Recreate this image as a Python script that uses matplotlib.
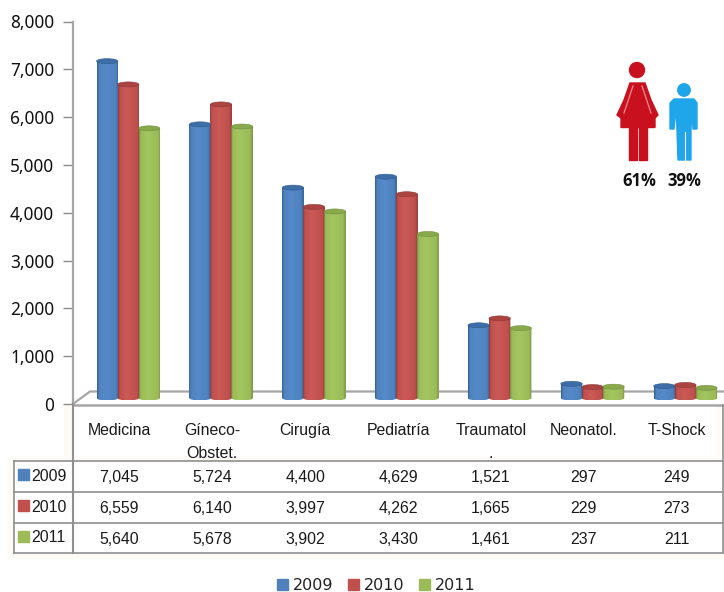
import numpy as np
import matplotlib
matplotlib.use('Agg')
import matplotlib.pyplot as plt
from matplotlib.colors import LinearSegmentedColormap
from matplotlib.patches import Circle, Ellipse, Patch, Polygon, Rectangle

categories = ['Medicina', 'Gíneco-\nObstet.', 'Cirugía', 'Pediatría',
              'Traumatol\n.', 'Neonatol.', 'T-Shock']
years = ['2009', '2010', '2011']
values_2009 = [7045, 5724, 4400, 4629, 1521, 297, 249]
values_2010 = [6559, 6140, 3997, 4262, 1665, 229, 273]
values_2011 = [5640, 5678, 3902, 3430, 1461, 237, 211]
y_ticks = [0, 1000, 2000, 3000, 4000, 5000, 6000, 7000, 8000]
shares = ['61%', '39%']

series = [values_2009, values_2010, values_2011]
flat_colors = ['#4f81bd', '#c0504d', '#9bbb59']
dark_colors = ['#2f5c92', '#8c3a38', '#728f3f']
light_colors = ['#558aca', '#cb5a57', '#a3c660']
cap_colors = ['#3d6ea8', '#ab4441', '#88a94c']

W, H = 724, 592
GRAY = '#a6a6a6'
TABLE_FONT = 'Liberation Sans'
TABLE_SIZE = 11.4


def px_axes(fig, left, top, right, bottom):
    return fig.add_axes([left / W, 1 - bottom / H, (right - left) / W, (bottom - top) / H])


def cylinder(ax, x, value, width, base, cap_h, i):
    """one shaded 3d column: gradient body, rounded foot and an elliptical cap"""
    cmap = LinearSegmentedColormap.from_list(
        'c', [(0, dark_colors[i]), (0.08, flat_colors[i]), (0.4, light_colors[i]),
              (0.88, flat_colors[i]), (1, dark_colors[i])])
    top = base + value
    ax.bar(x, value, width, bottom=base, color=flat_colors[i], zorder=3)
    t = np.linspace(np.pi, 2 * np.pi, 30)
    foot = np.column_stack([x + width / 2 * np.cos(t), base + cap_h / 2 * np.sin(t)])
    outline = np.vstack([[[x - width / 2, top]], foot, [[x + width / 2, top]]])
    clip = Polygon(outline, closed=True, transform=ax.transData, facecolor='none', edgecolor='none')
    ax.add_patch(clip)
    im = ax.imshow(np.linspace(0, 1, 64).reshape(1, -1), cmap=cmap, aspect='auto', zorder=3.1,
                   extent=[x - width / 2, x + width / 2, base - cap_h / 2, top])
    im.set_clip_path(clip)
    ax.add_patch(Ellipse((x, top), width, cap_h, facecolor=cap_colors[i],
                         edgecolor=dark_colors[i], linewidth=0.4, zorder=3.2))


def woman(ax, color):
    ax.add_patch(Circle((637, 70), 7.5, color=color))
    ax.add_patch(Polygon([(630, 83), (645, 83), (651, 100), (658, 115), (655, 118), (655, 127.5),
                          (621, 127.5), (621, 118), (617, 115), (624, 100)],
                         closed=True, color=color))
    # pale seams between the arms and the dress
    ax.plot([633, 624], [86, 113], color='#ef8a8f', linewidth=0.9)
    ax.plot([642, 651], [86, 113], color='#ef8a8f', linewidth=0.9)
    ax.add_patch(Rectangle((629, 127), 8, 33, color=color))
    ax.add_patch(Rectangle((638.5, 127), 8, 33, color=color))


def man(ax, color):
    ax.add_patch(Circle((684, 90), 6.2, color=color))
    ax.add_patch(Polygon([(674, 99), (694, 99), (697, 103), (697, 129), (693, 129), (692, 108),
                          (691, 130), (691, 160), (678, 160), (677, 130), (676, 108),
                          (674, 129), (670, 129), (670, 103)], closed=True, color=color))
    ax.plot([684.5, 684.5], [132, 160], color='#ffffff', linewidth=0.8)


fig = plt.figure(figsize=(W / 100, H / 100), dpi=100)

# value axis with the columns
ax = px_axes(fig, 73, 21.5, 723, 404)
ax.patch.set_alpha(0)

px_x = 7 / 650
px_y = 8000 / 382.5
bar_w = 21 * px_x
offset = 8.8 * px_x
base = 6 * px_y
cap_h = 5 * px_y

for i, vals in enumerate(series):
    for c, v in enumerate(vals):
        cylinder(ax, c + offset + (i - 1) * bar_w, v, bar_w * 1.02, base, cap_h, i)
ax.set_xlim(-0.5, 6.5)
ax.set_ylim(0, 8000)

for s in ['top', 'right', 'bottom']:
    ax.spines[s].set_visible(False)
ax.spines['left'].set_color(GRAY)
ax.spines['left'].set_linewidth(1.6)
ax.set_xticks([])
ax.set_yticks(y_ticks)
ax.set_yticklabels(['{:,}'.format(t) for t in y_ticks], family='Noto Sans', fontsize=12.4, color='#111111')
ax.tick_params(axis='y', length=7, width=1, color='#8c8c8c', pad=6.5)

# overlay in pixel units behind the columns: floor and the soft glow round the table
ov = px_axes(fig, 0, 0, W, H)
ov.set_xlim(0, W)
ov.set_ylim(H, 0)
ov.axis('off')
ov.set_zorder(-1)
glow = '#fefaf6'
ov.add_patch(Rectangle((7, 457), 717, 102, color=glow, linewidth=0))
ov.add_patch(Rectangle((64, 405), 9, 52, color=glow, linewidth=0))
ov.add_patch(Rectangle((716, 405), 7, 52, color=glow, linewidth=0))
ov.add_patch(Rectangle((13.5, 461), 709.5, 92, color='white', linewidth=0))
ov.plot([73, 90, 724], [404, 391.5, 391.5], color=GRAY, linewidth=1.6, solid_joinstyle='miter')

# overlay in pixel units above the columns: data table and icons
top = fig.add_axes([0, 0, 1, 1])
top.set_xlim(0, W)
top.set_ylim(H, 0)
top.axis('off')

line_c = '#8f8f8f'
top.plot([73, 723], [405, 405], color=GRAY, linewidth=1.8)
for y in [461, 491.5, 523, 553]:
    top.plot([13.5, 723], [y, y], color=line_c, linewidth=1.2)
top.plot([13.5, 13.5], [461, 553], color=line_c, linewidth=1.2)
top.plot([73, 73], [404, 553], color=line_c, linewidth=1.5)
top.plot([723, 723], [405, 553], color=line_c, linewidth=1.2)

col_w = 650 / 7
for c, name in enumerate(categories):
    for k, part in enumerate(name.split('\n')):
        top.text(73 + col_w * (c + 0.5), 435 + 23 * k, part, family=TABLE_FONT, fontsize=TABLE_SIZE,
                 ha='center', va='baseline', color='#1a1a1a')

row_base = [482.5, 513, 544]
for i, vals in enumerate(series):
    top.add_patch(Rectangle((18, row_base[i] - 13.5), 11, 11, color=flat_colors[i]))
    top.text(31.5, row_base[i] - 1.5, years[i], family=TABLE_FONT, fontsize=TABLE_SIZE, ha='left', va='baseline',
             color='#1a1a1a')
    for c, v in enumerate(vals):
        top.text(73 + col_w * (c + 0.5), row_base[i], '{:,}'.format(v), family=TABLE_FONT, fontsize=TABLE_SIZE,
                 ha='center', va='baseline', color='#1a1a1a')

woman(top, '#c8101e')
man(top, '#1fa5ea')
top.text(639, 181, shares[0], family='Open Sans', fontweight='bold', fontsize=12, ha='center', va='center',
         color='#111111')
top.text(684, 181, shares[1], family='Open Sans', fontweight='bold', fontsize=12, ha='center', va='center',
         color='#111111')

handles = [Patch(color=flat_colors[i], label=years[i]) for i in range(3)]
fig.legend(handles=handles, loc='center', bbox_to_anchor=(376 / W, 1 - 585.5 / H), ncol=3, frameon=False,
           prop={'family': 'DejaVu Sans', 'size': 11.5}, handlelength=0.7, handleheight=0.7,
           handletextpad=0.3, columnspacing=0.9, labelcolor='#222222')

fig.savefig('out.png', dpi=100)
